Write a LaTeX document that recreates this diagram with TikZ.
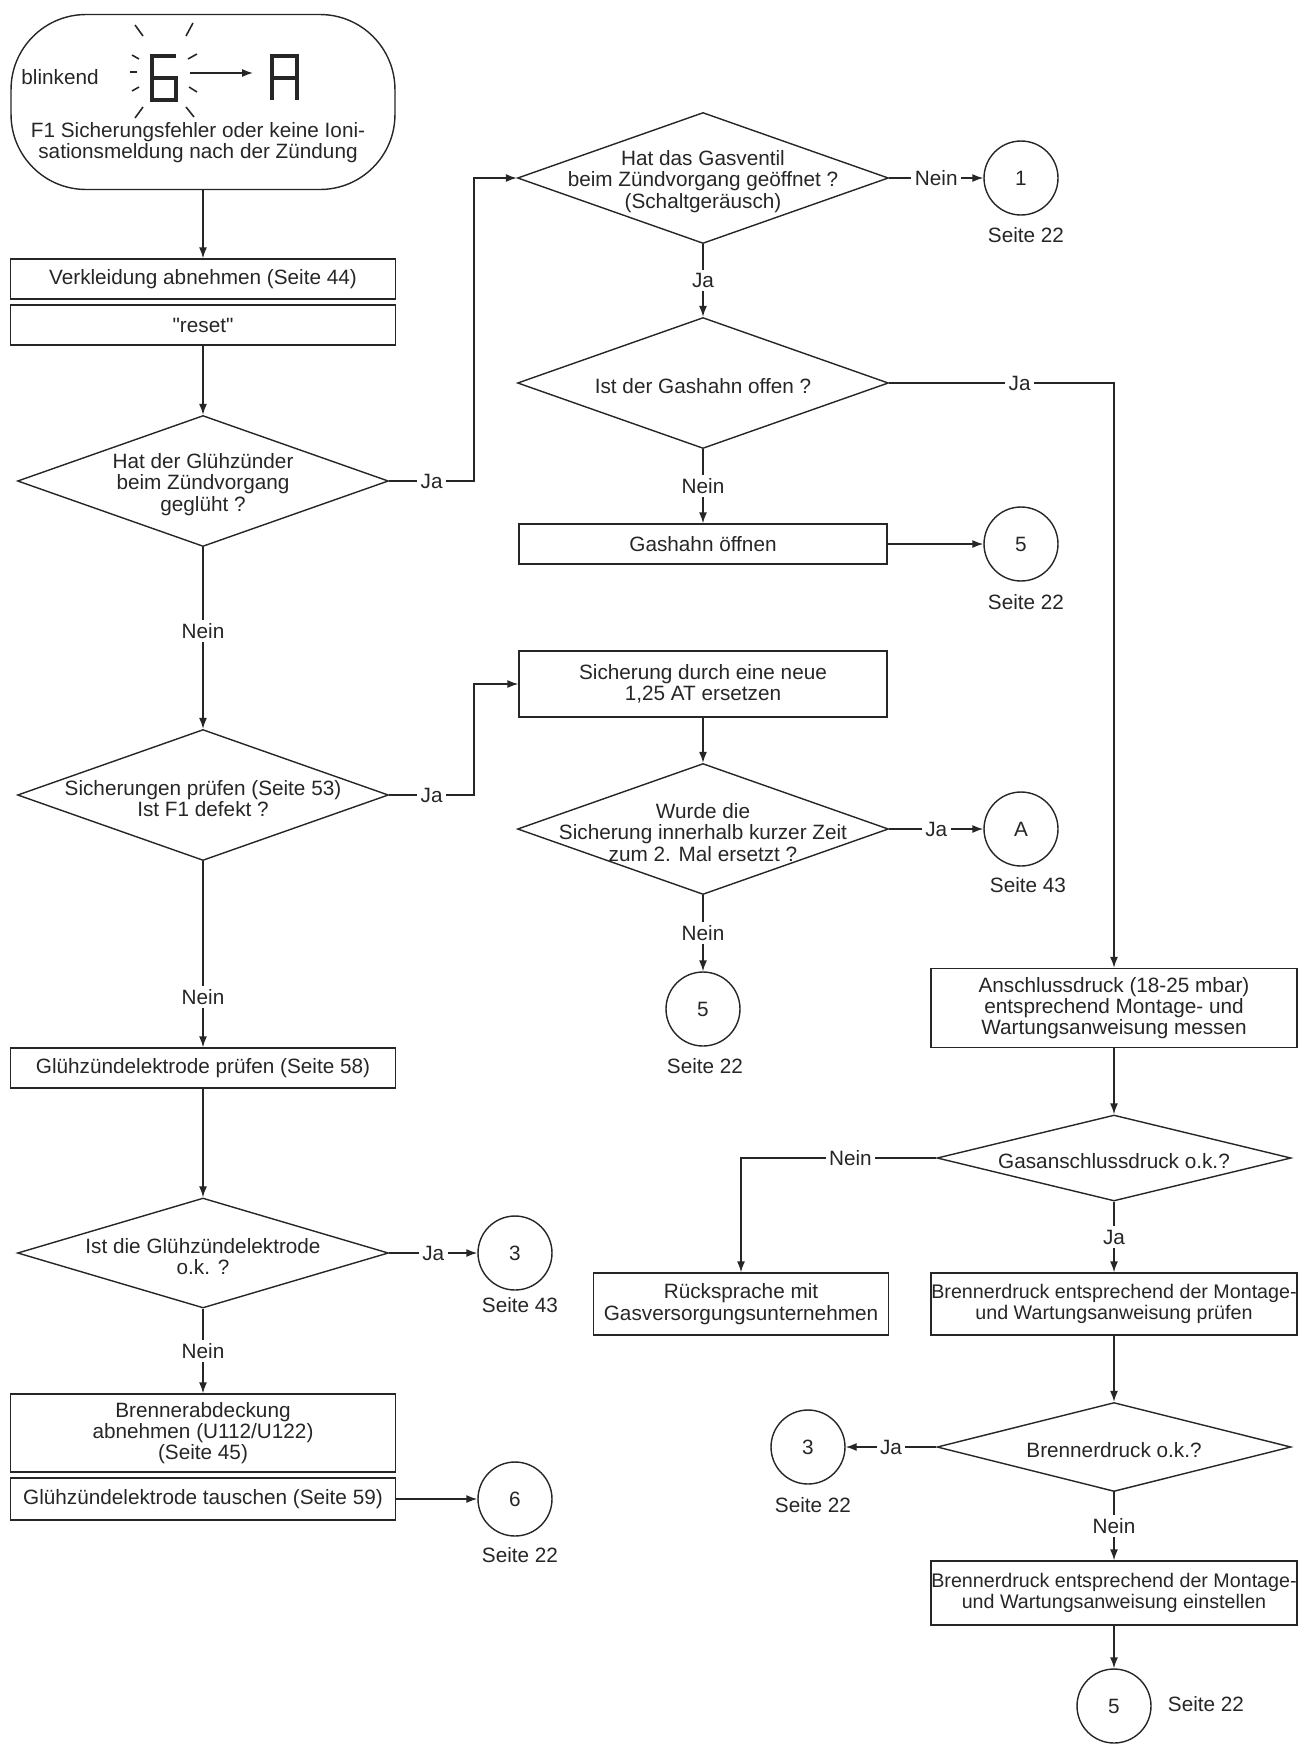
\documentclass[tikz,border=0pt]{standalone}
\usepackage{fontspec}
\setmainfont{Liberation Sans}[Ligatures=TeXOff]
\usetikzlibrary{shapes.geometric, arrows.meta}

\tikzset{
    box/.style={draw, rectangle, align=center, inner xsep=0pt, inner ysep=2pt, minimum width=7.7cm, minimum height=0.8cm},
    frage/.style={draw, diamond, inner sep=0pt, minimum width=7.42cm, minimum height=2.62cm, label={[align=center, yshift=-2pt]center:#1}},
    ziel/.style={draw, circle, inner sep=0pt, minimum size=1.48cm},
    antwort/.style={fill=white, inner sep=2pt},
    pfeil/.style={-{Latex[length=2.2mm, width=1.6mm]}},
    eng/.style={font=\fontsize{11.2}{12.1}\selectfont},
}

\begin{document}
\begin{tikzpicture}[x=0.02cm, y=-0.02cm, line width=0.8pt, color=black!85, font=\fontsize{11.8}{12.1}\selectfont]
\useasboundingbox (0,0) rectangle (1309,1748);

% Anzeige
\node[draw, rounded corners=1.5cm, minimum width=7.68cm, minimum height=3.5cm] (start) at (203,102) {};
\node (blink) at (60,77) {blinkend};
\node[align=center] (fehler) at (198,143) {F1 Sicherungsfehler oder keine Ioni-\\sationsmeldung nach der Zündung};
\draw[line width=2.3pt] (176,56) -- (152,56) -- (152,100) -- (176,100) -- (176,78) -- (152,78);
\draw[line width=2.3pt] (272,100) -- (272,56) -- (297,56) -- (297,100) (272,78) -- (297,78);
\draw[pfeil] (190,73) -- (253,73);
\foreach \xa/\ya/\xb/\yb in {135/25/143/36, 193/23/186/36, 132/55/139/59, 197/54/188/59, 130/72/137/72, 132/91/139/87, 197/92/189/87, 135/118/143/107, 194/117/186/107}
    \draw[line width=0.9pt] (\xa,\ya) -- (\xb,\yb);

% linke Spalte
\node[box] (verkl) at (203,279) {Verkleidung abnehmen (Seite 44)};
\node[box] (reset) at (203,325) {"reset"};
\node[frage={Hat der Glühzünder\\beim Zündvorgang\\geglüht ?}] (glueh) at (203,481) {};
\node[frage={Sicherungen prüfen (Seite 53)\\Ist F1 defekt ?}] (sich) at (203,795) {};
\node[box] (pruef) at (203,1068) {Glühzündelektrode prüfen (Seite 58)};
\node[frage={Ist die Glühzündelektrode\\o.k. ?}, minimum height=2.2cm] (elok) at (203,1253) {};
\node[box, minimum height=1.56cm] (abdeck) at (203,1433) {Brennerabdeckung\\abnehmen (U112/U122)\\(Seite 45)};
\node[box, minimum height=0.84cm] (tausch) at (203,1499) {Glühzündelektrode tauschen (Seite 59)};
\node[ziel] (z3a) at (515,1253) {3};
\node (s3a) at (520,1305) {Seite 43};
\node[ziel] (z6) at (515,1499) {6};
\node (s6) at (520,1555) {Seite 22};

% mittlere Spalte
\node[frage={Hat das Gasventil\\beim Zündvorgang geöffnet ?\\(Schaltgeräusch)}] (ventil) at (703,178) {};
\node[ziel] (z1) at (1021,178) {1};
\node (s1) at (1026,235) {Seite 22};
\node[frage={Ist der Gashahn offen ?}] (hahn) at (703,383) {};
\node[box, minimum width=7.36cm] (oeffnen) at (703,544) {Gashahn öffnen};
\node[ziel] (z5a) at (1021,544) {5};
\node (s5a) at (1026,602) {Seite 22};
\node[box, minimum width=7.36cm, minimum height=1.32cm] (ersetz) at (703,684) {Sicherung durch eine neue\\1,25 AT ersetzen};
\node[frage={Wurde die\\Sicherung innerhalb kurzer Zeit\\zum 2. Mal ersetzt ?}] (wurde) at (703,829) {};
\node[ziel] (zA) at (1021,829) {A};
\node (sA) at (1028,885) {Seite 43};
\node[ziel] (z5b) at (703,1009) {5};
\node (s5b) at (705,1066) {Seite 22};

% rechte Spalte
\node[box, minimum width=7.32cm, minimum height=1.58cm] (mess) at (1114,1008) {Anschlussdruck (18-25 mbar)\\entsprechend Montage- und\\Wartungsanweisung messen};
\node[frage={Gasanschlussdruck o.k.?}, minimum width=7.08cm, minimum height=1.72cm] (gasok) at (1114,1158) {};
\node[box, minimum width=5.9cm, minimum height=1.24cm] (rueck) at (741,1304) {Rücksprache mit\\Gasversorgungsunternehmen};
\node[box, eng, minimum width=7.32cm, minimum height=1.24cm] (bpruef) at (1114,1304) {Brennerdruck entsprechend der Montage-\\und Wartungsanweisung prüfen};
\node[frage={Brennerdruck o.k.?}, minimum width=7.08cm, minimum height=1.78cm] (bok) at (1114,1447) {};
\node[ziel] (z3b) at (808,1447) {3};
\node (s3b) at (813,1505) {Seite 22};
\node[box, eng, minimum width=7.32cm, minimum height=1.28cm] (beinst) at (1114,1593) {Brennerdruck entsprechend der Montage-\\und Wartungsanweisung einstellen};
\node[ziel] (z5c) at (1114,1706) {5};
\node (s5c) at (1206,1704) {Seite 22};

% Verbindungen
\draw[pfeil] (start) -- (verkl);
\draw[pfeil] (reset) -- (glueh);
\draw[pfeil] (glueh) -- node[antwort, pos=0.46]{Nein} (sich);
\draw[pfeil] (glueh.east) -- node[antwort]{Ja} ++(85,0) |- (ventil);
\draw[pfeil] (sich.east) -- node[antwort]{Ja} ++(85,0) |- (ersetz);
\draw[pfeil] (sich) -- node[antwort, pos=0.73]{Nein} (pruef);
\draw[pfeil] (pruef) -- (elok);
\draw[pfeil] (elok) -- node[antwort]{Ja} (z3a);
\draw[pfeil] (elok) -- node[antwort]{Nein} (abdeck);
\draw[pfeil] (tausch) -- (z6);

\draw[pfeil] (ventil) -- node[antwort]{Nein} (z1);
\draw[pfeil] (ventil) -- node[antwort]{Ja} (hahn);
\draw[pfeil] (hahn) -| node[antwort, pos=0.29]{Ja} (mess);
\draw[pfeil] (hahn) -- node[antwort]{Nein} (oeffnen);
\draw[pfeil] (oeffnen) -- (z5a);
\draw[pfeil] (ersetz) -- (wurde);
\draw[pfeil] (wurde) -- node[antwort]{Ja} (zA);
\draw[pfeil] (wurde) -- node[antwort]{Nein} (z5b);

\draw[pfeil] (mess) -- (gasok);
\draw[pfeil] (gasok) -| node[antwort, pos=0.22]{Nein} (rueck);
\draw[pfeil] (gasok) -- node[antwort]{Ja} (bpruef);
\draw[pfeil] (bpruef) -- (bok);
\draw[pfeil] (bok) -- node[antwort]{Ja} (z3b);
\draw[pfeil] (bok) -- node[antwort]{Nein} (beinst);
\draw[pfeil] (beinst) -- (z5c);
\end{tikzpicture}
\end{document}
